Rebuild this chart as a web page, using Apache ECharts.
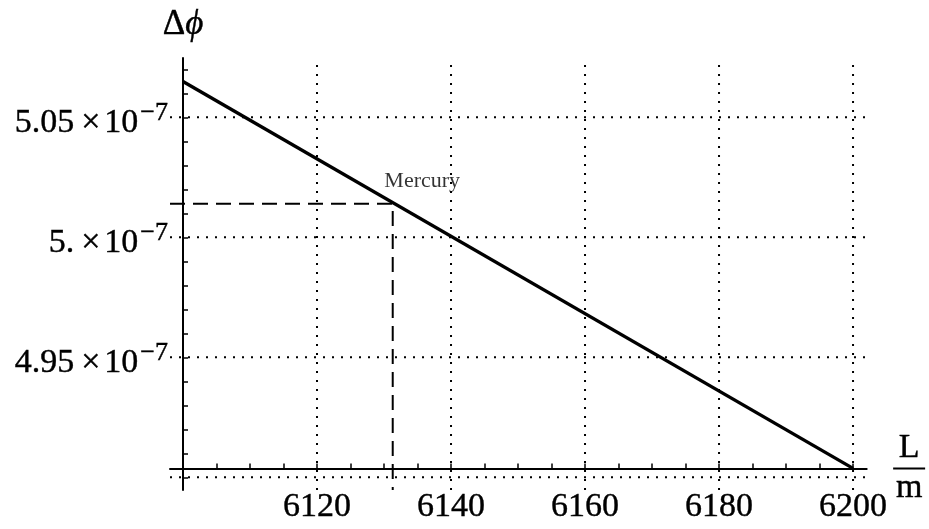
<!DOCTYPE html>
<html>
<head>
<meta charset="utf-8">
<script src="https://cdn.jsdelivr.net/npm/echarts@6/dist/echarts.min.js"></script>
<style>
html,body{margin:0;padding:0;background:#fff;}
#chart{width:929px;height:529px;}
</style>
</head>
<body>
<div id="chart"></div>
<script>
// ---- data ----
const lineL = [6100, 6200];
const lineDphi = [5.0649e-7, 4.9037e-7];
const mercuryL = 6131.3;
const mercuryDphi = 5.0140e-7;
const mercuryName = 'Mercury';

const xLabelValues = [6120, 6140, 6160, 6180, 6200];
const xTickValues = [6100, 6105, 6110, 6115, 6120, 6125, 6130, 6135, 6140, 6145, 6150,
                     6155, 6160, 6165, 6170, 6175, 6180, 6185, 6190, 6195, 6200];
const xGridValues = [6120, 6140, 6160, 6180, 6200];

const yLabelValues = [4.95e-7, 5.00e-7, 5.05e-7];
const yLabelTexts = ['4.95', '5.', '5.05'];
const yTickValues = [4.90e-7, 4.91e-7, 4.92e-7, 4.93e-7, 4.94e-7, 4.95e-7, 4.96e-7, 4.97e-7,
                     4.98e-7, 4.99e-7, 5.00e-7, 5.01e-7, 5.02e-7, 5.03e-7, 5.04e-7, 5.05e-7,
                     5.06e-7, 5.07e-7];
const yGridValues = [4.90e-7, 4.95e-7, 5.00e-7, 5.05e-7];

const xMin = 6098.06, xMax = 6202.04;
const yMin = 4.8947e-7, yMax = 5.0747e-7;

// ---- chart ----
const serif = 'Liberation Serif';
const chart = echarts.init(document.getElementById('chart'));

const lineData = lineL.map((x, i) => [x, lineDphi[i]]);

const gridStyle = { color: '#000', width: 2, type: [2, 7] };
const gridSeries = [];
xGridValues.forEach(v => gridSeries.push({
  type: 'line', symbol: 'none', silent: true, z: 1,
  data: [[v, yMin], [v, yMax]], lineStyle: gridStyle
}));
yGridValues.forEach(v => gridSeries.push({
  type: 'line', symbol: 'none', silent: true, z: 1,
  data: [[xMin, v], [xMax, v]], lineStyle: gridStyle
}));

const labelThick = { textBorderColor: '#000', textBorderWidth: 0.4 };

chart.setOption({
  backgroundColor: '#fff',
  animation: false,
  grid: { left: 170, right: 62.3, top: 58, bottom: 39 },
  xAxis: {
    type: 'value', min: xMin, max: xMax,
    position: 'bottom', offset: -21.5, z: 3,
    axisLine: { show: true, lineStyle: { color: '#000', width: 2 } },
    axisTick: { show: true, inside: true, length: 5, customValues: xTickValues,
                lineStyle: { color: '#000', width: 1.5 } },
    axisLabel: Object.assign({ show: true, customValues: xLabelValues, margin: 22,
                 fontFamily: serif, fontSize: 34, color: '#000',
                 formatter: v => String(Math.round(v)) }, labelThick),
    splitLine: { show: false },
    name: '{n|L}\n{bar| }\n{m|m}',
    nameLocation: 'end', nameGap: 42,
    nameTextStyle: {
      align: 'center', verticalAlign: 'middle',
      rich: {
        n: Object.assign({ fontFamily: serif, fontSize: 34, lineHeight: 38, color: '#000', align: 'center' }, labelThick),
        bar: { width: 32, height: 2, lineHeight: 2, fontSize: 2, backgroundColor: '#000' },
        m: Object.assign({ fontFamily: serif, fontSize: 34, lineHeight: 38, color: '#000', align: 'center' }, labelThick)
      }
    }
  },
  yAxis: {
    type: 'value', min: yMin, max: yMax,
    position: 'left', offset: -13, z: 3,
    axisLine: { show: true, lineStyle: { color: '#000', width: 2 } },
    axisTick: { show: true, inside: true, length: 5, customValues: yTickValues,
                lineStyle: { color: '#000', width: 1.5 } },
    axisLabel: {
      show: true, customValues: yLabelValues, margin: 15,
      formatter: function (v) {
        let idx = 0, best = Infinity;
        yLabelValues.forEach((y, i) => { const d = Math.abs(y - v); if (d < best) { best = d; idx = i; } });
        return '{a|' + yLabelTexts[idx] + '}{x|×}{a|10}{s|−7}';
      },
      rich: {
        a: Object.assign({ fontFamily: serif, fontSize: 34, lineHeight: 34, color: '#000', padding: [12, 0, 0, 0] }, labelThick),
        x: Object.assign({ fontFamily: serif, fontSize: 34, lineHeight: 34, color: '#000', padding: [12, 4, 0, 7] }, labelThick),
        s: Object.assign({ fontFamily: serif, fontSize: 26, lineHeight: 26, color: '#000', verticalAlign: 'top', padding: [0, 0, 0, 2] }, labelThick)
      }
    },
    splitLine: { show: false },
    name: '{d|Δ}{p|ϕ}',
    nameLocation: 'end', nameGap: 16,
    nameTextStyle: {
      align: 'center',
      rich: {
        d: Object.assign({ fontFamily: serif, fontSize: 35, color: '#000' }, labelThick),
        p: Object.assign({ fontFamily: serif, fontSize: 35, fontStyle: 'italic', color: '#000' }, labelThick)
      }
    }
  },
  series: gridSeries.concat([
    {
      type: 'line', data: lineData, symbol: 'none', silent: true,
      lineStyle: { color: '#000', width: 3.4 }, z: 5
    },
    {
      type: 'line', symbol: 'none', silent: true,
      data: [[xMin, mercuryDphi], [mercuryL, mercuryDphi], [mercuryL, yMin]],
      lineStyle: { color: '#000', width: 2, type: [15, 8] }, z: 4
    },
    {
      type: 'scatter', silent: true, symbolSize: 0, z: 6,
      data: [[mercuryL, mercuryDphi]],
      label: { show: true, position: 'inside', offset: [29.5, -22], formatter: mercuryName,
               fontFamily: serif, fontSize: 22, color: '#000' }
    }
  ])
});
</script>
</body>
</html>
